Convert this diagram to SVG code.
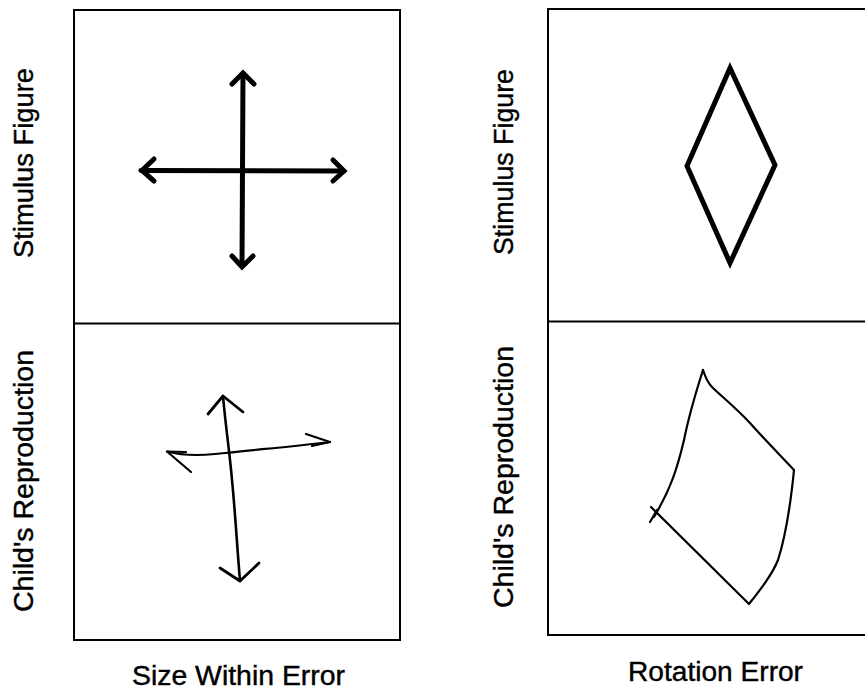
<svg xmlns="http://www.w3.org/2000/svg" width="865" height="693" viewBox="0 0 865 693">
<style>
.frame{fill:none;stroke:#000;stroke-width:2}
.bold{fill:none;stroke:#000;stroke-width:5;stroke-linecap:round;stroke-linejoin:miter}
.hand{fill:none;stroke:#000;stroke-width:2.2;stroke-linecap:round;stroke-linejoin:round}
.lbl{font-family:"Liberation Sans",Arial,Helvetica,sans-serif;font-size:27px;fill:#000;stroke:#000;stroke-width:0.4}
</style>
<rect width="865" height="693" fill="#fff"/>
<g id="left-panel">
  <rect class="frame" x="74" y="10" width="326" height="630"/>
  <line class="frame" x1="74" y1="323.5" x2="400" y2="323.5"/>
</g>
<g id="right-panel">
  <rect class="frame" x="548" y="9" width="330" height="626"/>
  <line class="frame" x1="548" y1="321.5" x2="866" y2="321.5"/>
</g>
<g id="left-stimulus">
  <line class="bold" x1="243" y1="73" x2="242" y2="266"/>
  <line class="bold" x1="141" y1="170.5" x2="344" y2="171"/>
  <polyline class="bold" points="232,84 243,73 254,84"/>
  <polyline class="bold" points="232,256 242,267 253,256"/>
  <polyline class="bold" points="154,159 142,170.5 154,181"/>
  <polyline class="bold" points="333,160 344,171 333,181"/>
</g>
<g id="left-reproduction">
  <path class="hand" d="M223,396 C226,430 230,455 232,480 C235,510 237,545 240,581" style="stroke-width:2.6"/>
  <path class="hand" d="M208,414 L223,396 L243,412" style="stroke-width:2.8"/>
  <path class="hand" d="M220,568 L240,581 L259,563" style="stroke-width:2.8"/>
  <path class="hand" d="M167,451.5 C180,455 195,456 215,454 C250,450 290,447 330,442"/>
  <path class="hand" d="M186,452 L167,451.5 L191,472"/>
  <path class="hand" d="M306,434 L330,442 L312,446"/>
</g>
<g id="right-stimulus">
  <polygon class="bold" points="730,68 775,165 730,263 687,166"/>
</g>
<g id="right-reproduction">
  <path class="hand" d="M651,507 L749,604 C760,590 772,575 778,560 C786,535 790,510 794,470"/>
  <path class="hand" d="M794,470 C780,455 765,440 750,423 C735,407 720,395 712,387 C707,382 705,376 703,370"/>
  <path class="hand" d="M703,370 C695,395 688,420 684,440 C677,470 670,490 654,517"/>
  <path class="hand" d="M650,522 L657,510"/>
</g>
<g id="labels">
  <text class="lbl" transform="translate(33,163) rotate(-90)" text-anchor="middle" textLength="190" lengthAdjust="spacingAndGlyphs">Stimulus Figure</text>
  <text class="lbl" transform="translate(33,481) rotate(-90)" text-anchor="middle" textLength="262" lengthAdjust="spacingAndGlyphs">Child's Reproduction</text>
  <text class="lbl" transform="translate(513,162) rotate(-90)" text-anchor="middle" textLength="186" lengthAdjust="spacingAndGlyphs">Stimulus Figure</text>
  <text class="lbl" transform="translate(513,477) rotate(-90)" text-anchor="middle" textLength="262" lengthAdjust="spacingAndGlyphs">Child's Reproduction</text>
  <text class="lbl" x="132" y="685" textLength="213" lengthAdjust="spacingAndGlyphs">Size Within Error</text>
  <text class="lbl" x="628" y="681" textLength="175" lengthAdjust="spacingAndGlyphs">Rotation Error</text>
</g>
</svg>
